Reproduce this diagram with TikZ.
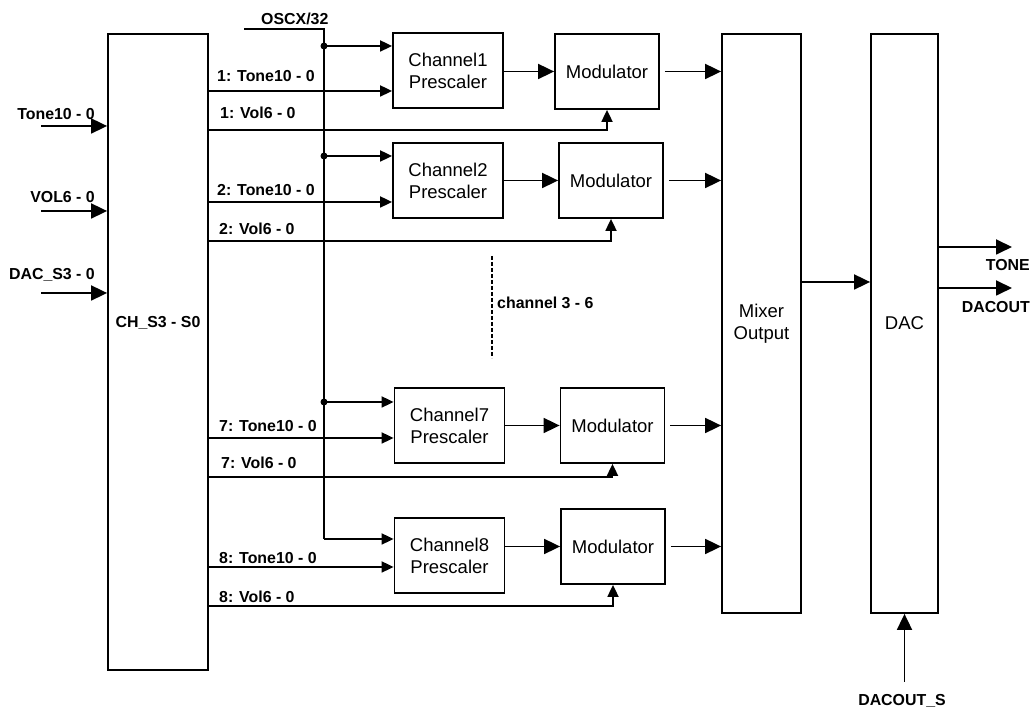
\documentclass[tikz,border=0pt]{standalone}
\usepackage{fontspec}
\setmainfont{Liberation Sans}
\usetikzlibrary{arrows.meta,positioning,calc}
\tikzset{
    blk/.style={draw, line width=1.8pt, inner sep=0pt, align=center, font=\fontsize{18.5}{22}\selectfont},
    prebox/.style={blk, minimum width=110pt, minimum height=75pt},
    modbox/.style={blk, minimum width=104pt, minimum height=75pt},
    tallbox/.style={blk, minimum width=79pt, minimum height=579pt},
    sig/.style={font=\bfseries\fontsize{15.9}{18}\selectfont, inner sep=0pt},
    wire/.style={line width=1.8pt},
    arr/.style={wire, -{Triangle[length=12pt,width=11pt]}},
    bigarr/.style={wire, -{Triangle[length=16pt,width=15pt]}}
}

\begin{document}
\begin{tikzpicture}[x=1pt,y=1pt]
    \useasboundingbox (0,0) rectangle (1034,709);

    % blocks
    \node[blk, minimum width=100pt, minimum height=636pt] (ch) at (158,357) {};
    \node[sig, anchor=base] (chlbl) at (158,381) {CH\_S3 - S0};
    \node[tallbox] (mix) at (761.5,385.5) {Mixer\\Output};
    \node[tallbox, minimum width=67pt] (dac) at (904.5,385.5) {DAC};

    \node[prebox] (pre1) at (448,638.5) {Channel1\\Prescaler};
    \node[modbox] (mod1) at (607,637.5) {Modulator};
    \node[prebox] (pre2) at (448,528.5) {Channel2\\Prescaler};
    \node[modbox] (mod2) at (611,528.5) {Modulator};
    \node[prebox] (pre7) at (449.5,283.5) {Channel7\\Prescaler};
    \node[modbox] (mod7) at (612.5,283.5) {Modulator};
    \node[prebox] (pre8) at (449.5,153.5) {Channel8\\Prescaler};
    \node[modbox] (mod8) at (613,162.5) {Modulator};

    % inputs on the left
    \coordinate (tonein) at (41,583);
    \coordinate (volin) at (41,498);
    \coordinate (dacsin) at (41,416);
    \node[sig, anchor=base east] (tonelbl) at (95,589) {Tone10 - 0};
    \node[sig, anchor=base east] (vollbl) at (95,506) {VOL6 - 0};
    \node[sig, anchor=base east] (dacslbl) at (95,429) {DAC\_S3 - 0};
    \draw[bigarr] (tonein) -- (tonein -| ch.west);
    \draw[bigarr] (volin) -- (volin -| ch.west);
    \draw[bigarr] (dacsin) -- (dacsin -| ch.west);

    % clock bus
    \coordinate (oscx) at (244,680);
    \coordinate (bus) at (324,680);
    \coordinate (clk1) at (324,663);
    \coordinate (clk2) at (324,553);
    \coordinate (clk7) at (324,307);
    \coordinate (clk8) at (324,170);
    \node[sig, anchor=base west] (oscxlbl) at (261,684) {OSCX/32};
    \draw[wire] (oscx) -- (bus) -- (clk8);
    \draw[arr] (clk1) -- (clk1 -| pre1.west);
    \draw[arr] (clk2) -- (clk2 -| pre2.west);
    \draw[arr] (clk7) -- (clk7 -| pre7.west);
    \draw[arr] (clk8) -- (clk8 -| pre8.west);
    \foreach \c in {clk1,clk2,clk7}
        \fill (\c) circle (3.5pt);

    % tone and volume lines
    \draw[arr] (ch.east |- 0,618) -- (pre1.west |- 0,618);
    \draw[arr] (ch.east |- 0,507) -- (pre2.west |- 0,507);
    \draw[arr] (ch.east |- 0,271) -- (pre7.west |- 0,271);
    \draw[arr] (ch.east |- 0,142) -- (pre8.west |- 0,142);
    \draw[arr] (ch.east |- 0,579) -| (mod1.south);
    \draw[arr] (ch.east |- 0,468) -| (mod2.south);
    \draw[arr] (ch.east |- 0,232) -| (mod7.south);
    \draw[arr] (ch.east |- 0,103) -| (mod8.south);
    \node[sig, anchor=base west] (tone1lbl) at (217,627) {1: Tone10 - 0};
    \node[sig, anchor=base west] (vol1lbl) at (220,590) {1: Vol6 - 0};
    \node[sig, anchor=base west] (tone2lbl) at (217,513) {2: Tone10 - 0};
    \node[sig, anchor=base west] (vol2lbl) at (219,474) {2: Vol6 - 0};
    \node[sig, anchor=base west] (tone7lbl) at (219,277) {7: Tone10 - 0};
    \node[sig, anchor=base west] (vol7lbl) at (221,240) {7: Vol6 - 0};
    \node[sig, anchor=base west] (tone8lbl) at (219,145) {8: Tone10 - 0};
    \node[sig, anchor=base west] (vol8lbl) at (219,106) {8: Vol6 - 0};

    % prescaler to modulator to mixer
    \foreach \n in {1,2,7,8} {
        \draw[bigarr] (pre\n.east |- mod\n.west) -- (mod\n.west);
        \draw[bigarr, shorten <=5pt] (mod\n.east) -- (mod\n.east -| mix.west);
    }

    % channels 3 to 6 left out
    \draw[wire, dashed, line width=1.4pt, dash pattern=on 4pt off 2pt] (492,453) -- (492,351);
    \node[sig, anchor=base west] (skiplbl) at (497,400) {channel 3 - 6};

    % mixer, DAC and outputs
    \draw[bigarr] (mix.east |- 0,427) -- (dac.west |- 0,427);
    \coordinate (toneout) at (1012,462);
    \coordinate (dacout) at (1012,421);
    \draw[bigarr] (dac.east |- toneout) -- (toneout);
    \draw[bigarr] (dac.east |- dacout) -- (dacout);
    \node[sig, anchor=base east] (tonelbl2) at (1030,438) {TONE};
    \node[sig, anchor=base east] (dacoutlbl) at (1030,396) {DACOUT};
    \coordinate (dacsel) at (dac.south |- 0,27);
    \draw[bigarr] (dacsel) -- (dac.south);
    \node[sig, anchor=base] (dacsellbl) at (902,3) {DACOUT\_S};
\end{tikzpicture}
\end{document}
